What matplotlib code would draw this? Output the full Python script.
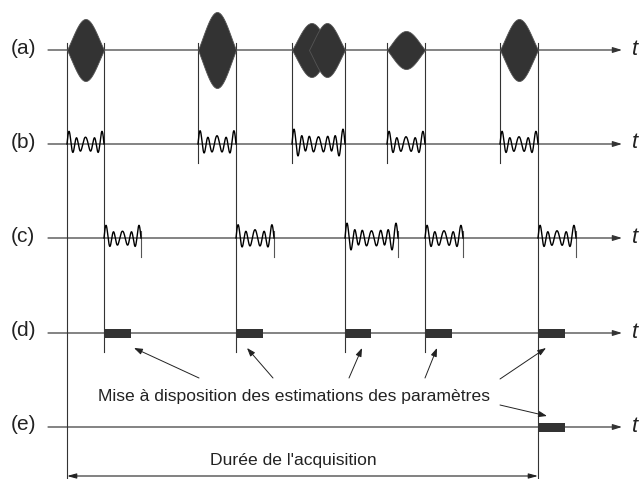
import numpy as np
import matplotlib
matplotlib.use("Agg")
import matplotlib.pyplot as plt
from matplotlib.patches import Rectangle

plt.rcParams['font.family'] = ['Liberation Sans', 'DejaVu Sans']

# ---- data (time in arbitrary units along the t axis) ----
row_labels = ['(a)', '(b)', '(c)', '(d)', '(e)']
pulse_start = [67, 198, 292, 387, 500]
pulse_end = [104, 236, 345, 425, 538]
# components of emitted pulses in (a): (start, end, amplitude)
comp_start = [67, 198, 292, 309, 387, 500]
comp_end = [104, 236, 331, 345, 425, 538]
comp_amp = [31, 38, 27, 27, 19, 31]
# received echo waveforms (b)/(c)
wave_amp = [11, 11.5, 12.5, 11, 11]
wave_cycles = [4.5, 4.5, 6.5, 4.5, 4.5]
wave_mix = [0.30, 0.25, 0.32, 0.28, 0.28]
# processing time (d) and final estimate (e)
proc_time = [27, 27, 26, 27, 27]
final_start = [538]
final_time = [27]
note_text = "Mise à disposition des estimations des paramètres"
duration_text = "Durée de l'acquisition"

# ---- layout ----
W, H = 643, 479
row_y = [50, 144, 238, 333, 427]
x_axis0, x_axis1 = 48, 622
dark = '#333333'
line_c = '#333333'

fig = plt.figure(figsize=(W / 100, H / 100), dpi=100)
ax = fig.add_axes([0, 0, 1, 1])
ax.set_xlim(0, W)
ax.set_ylim(H, 0)
ax.axis('off')

# time axes with arrows and labels
for lab, y in zip(row_labels, row_y):
    ax.annotate('', xy=(x_axis1, y), xytext=(x_axis0, y),
                arrowprops=dict(arrowstyle='-|>,head_length=0.55,head_width=0.17',
                                lw=0.85, color=line_c, shrinkA=0, shrinkB=0))
    ax.text(11, y - 2, lab, fontsize=15, ha='left', va='center', color='#222222')
    ax.text(632, y - 1, 't', fontsize=16, style='italic', ha='left', va='center',
            color='#222222')

# (a) emitted pulses: bell envelopes
def bell(u):
    s = 0.38
    g = np.exp(-0.5 * ((u - 0.5) / s) ** 2)
    g0 = np.exp(-0.5 * (0.5 / s) ** 2)
    return (g - g0) / (1 - g0)

u = np.linspace(0, 1, 200)
for s0, e0, a0 in zip(comp_start, comp_end, comp_amp):
    x = s0 + (e0 - s0) * u
    env = a0 * bell(u)
    ax.fill_between(x, row_y[0] - env, row_y[0] + env, facecolor=dark,
                    edgecolor='#555555', lw=0.6, zorder=3)

# (b) and (c) received waveforms
def wave(uu, n, mix):
    return ((1 - mix) * np.sin(2 * np.pi * n * uu)
            + mix * np.sin(2 * np.pi * (n + 1) * uu)
            + 0.22 * np.sin(2 * np.pi * (n - 2) * uu))

uu = np.linspace(0, 1, 400)
for i, (s0, e0) in enumerate(zip(pulse_start, pulse_end)):
    d = e0 - s0
    w = wave_amp[i] * wave(uu, wave_cycles[i], wave_mix[i])
    ax.plot(s0 + d * uu, row_y[1] - w, color='black', lw=1.0, zorder=3)
    ax.plot(e0 + d * uu, row_y[2] - w, color='black', lw=1.0, zorder=3)
    # c end tick
    ax.plot([e0 + d, e0 + d], [row_y[2] - 7, row_y[2] + 19], color='#555555', lw=0.8)
    # start line
    y_bot = H if i == 0 else row_y[1] + 19
    ax.plot([s0, s0], [row_y[0] - 7, y_bot], color=line_c, lw=0.8, zorder=1)
    # end line
    y_bot = H if i == len(pulse_end) - 1 else row_y[3] + 19
    ax.plot([e0, e0], [row_y[0] - 7, y_bot], color=line_c, lw=0.8, zorder=1)
    # (d) processing bar
    ax.add_patch(Rectangle((e0, row_y[3] - 4.5), proc_time[i], 9, facecolor=dark,
                           edgecolor='none', zorder=3))

# (e) final estimate
for s0, t0 in zip(final_start, final_time):
    ax.add_patch(Rectangle((s0, row_y[4] - 4.5), t0, 9, facecolor=dark,
                           edgecolor='none', zorder=3))

# annotation
ax.text(293.5, 397, note_text, fontsize=12.6, ha='center', va='center', color='#222222')
arrow_tail = [(199, 378), (273, 378), (349, 378), (425, 378), (500, 379), (500, 405)]
arrow_head = [(134, 348), (247, 348), (362, 348), (437, 348), (546, 348), (547, 416)]
for t_, h_ in zip(arrow_tail, arrow_head):
    ax.annotate('', xy=h_, xytext=t_,
                arrowprops=dict(arrowstyle='-|>,head_length=0.5,head_width=0.18',
                                lw=0.7, color='#222222', shrinkA=0, shrinkB=0))

# acquisition duration
ax.annotate('', xy=(pulse_end[-1], 476), xytext=(pulse_start[0], 476),
            arrowprops=dict(arrowstyle='<|-|>,head_length=0.55,head_width=0.15',
                            lw=0.8, color='#222222', shrinkA=0, shrinkB=0))
ax.text((pulse_start[0] + pulse_end[-1]) / 2 - 9, 460, duration_text, fontsize=12.6,
        ha='center', va='center', color='#222222')

fig.savefig('out.png', dpi=100)
